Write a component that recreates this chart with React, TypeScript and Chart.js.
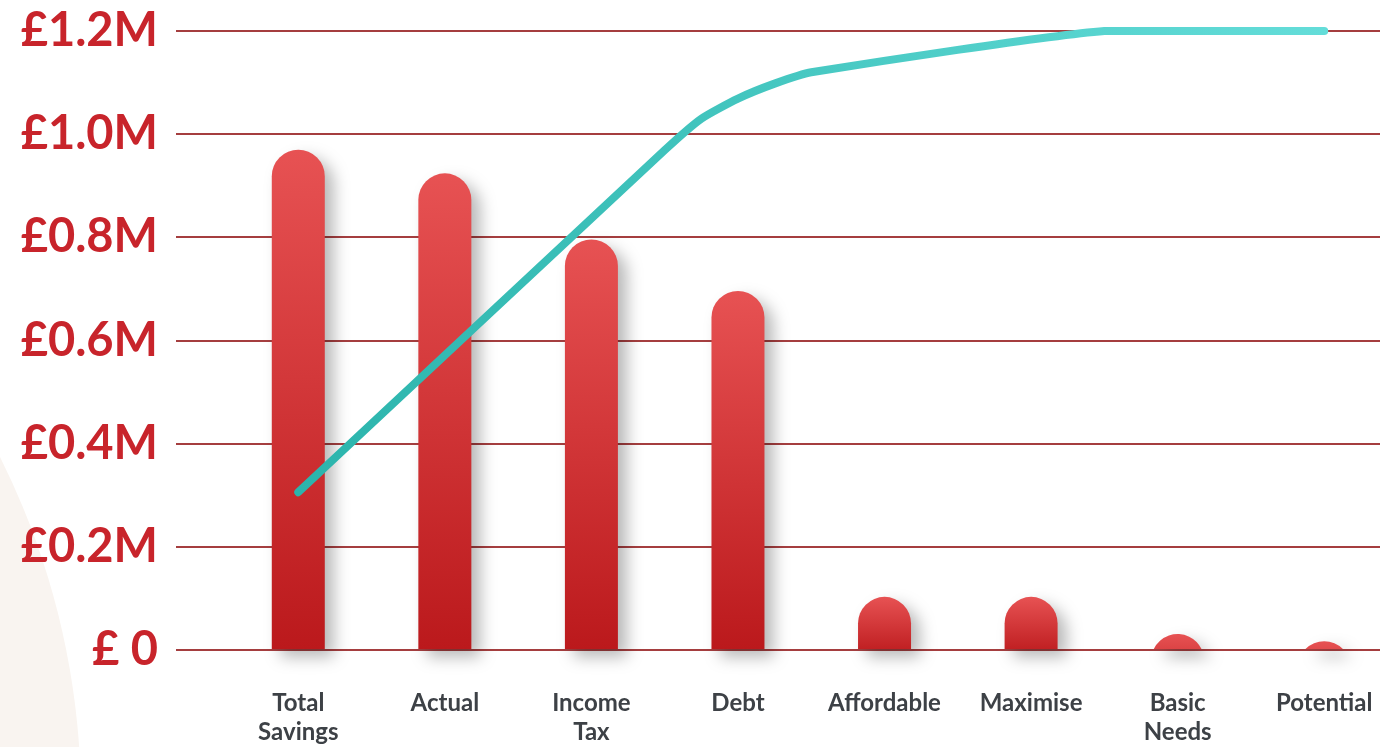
import React, { useEffect, useRef } from 'react';
import { Chart, registerables } from 'chart.js';

Chart.register(...registerables);

// Category labels (multi-line where the label wraps)
const categories: string[][] = [
  ['Total', 'Savings'],
  ['Actual'],
  ['Income', 'Tax'],
  ['Debt'],
  ['Affordable'],
  ['Maximise'],
  ['Basic', 'Needs'],
  ['Potential'],
];

// Bar values in pounds
const barValues: number[] = [970000, 924000, 796000, 696000, 103000, 103000, 31000, 17000];

// Cumulative line: positions in category units and values in pounds
const linePositions: number[] = [0, 2.5, 2.75, 3.0, 3.25, 3.5, 5.5, 7];
const lineValues: number[] = [306000, 969000, 1030000, 1069000, 1098000, 1120000, 1200000, 1200000];

// Y axis
const yTicks: number[] = [0, 200000, 400000, 600000, 800000, 1000000, 1200000];
const yTickLabels: string[] = ['£ 0', '£0.2M', '£0.4M', '£0.6M', '£0.8M', '£1.0M', '£1.2M'];

const FONT = 'Lato, "Open Sans", sans-serif';
const CANVAS_W = 1400;
const CANVAS_H = 747;

// Soft beige disc behind the left side of the chart
const backdrop = {
  id: 'backdrop',
  beforeDraw(chart: any) {
    const ctx = chart.ctx as CanvasRenderingContext2D;
    ctx.save();
    ctx.fillStyle = '#f9f4f0';
    ctx.beginPath();
    ctx.arc(-686, 800, 767, 0, Math.PI * 2);
    ctx.fill();
    ctx.restore();
  },
};

// Draws each bar as a pill (semicircular top) clipped at the baseline, with a soft shadow
const pillBars = {
  id: 'pillBars',
  afterDatasetDraw(chart: any, args: any) {
    if (args.index !== 0) return;
    const ctx = chart.ctx as CanvasRenderingContext2D;
    args.meta.data.forEach((el: any) => {
      const { x, y, base, width } = el.getProps(['x', 'y', 'base', 'width'], true);
      const r = width / 2;
      const left = x - r;
      const right = x + r;
      const cy = y + r;
      ctx.save();
      ctx.beginPath();
      if (base - y >= r) {
        ctx.moveTo(left, base);
        ctx.lineTo(left, cy);
        ctx.arc(x, cy, r, Math.PI, Math.PI * 2);
        ctx.lineTo(right, base);
      } else {
        const a = Math.asin(Math.min(1, (cy - base) / r));
        ctx.arc(x, cy, r, Math.PI + a, Math.PI * 2 - a);
      }
      ctx.closePath();
      const g = ctx.createLinearGradient(0, y, 0, Math.max(base, y + 60));
      g.addColorStop(0, '#e75253');
      g.addColorStop(1, '#bb191c');
      ctx.fillStyle = g;
      ctx.shadowColor = 'rgba(0,0,0,0.28)';
      ctx.shadowBlur = 16;
      ctx.shadowOffsetX = 9;
      ctx.shadowOffsetY = 8;
      ctx.fill();
      ctx.restore();
    });
  },
};

export default function App() {
  const canvasRef = useRef<HTMLCanvasElement | null>(null);

  useEffect(() => {
    const canvas = canvasRef.current;
    if (!canvas) return;
    const ctx = canvas.getContext('2d') as CanvasRenderingContext2D;

    const tickGradient = ctx.createLinearGradient(20, 0, 160, 0);
    tickGradient.addColorStop(0, '#c8242b');
    tickGradient.addColorStop(1, '#e8545a');

    const lineGradient = ctx.createLinearGradient(298, 0, 1324, 0);
    lineGradient.addColorStop(0, '#2bb4ac');
    lineGradient.addColorStop(1, '#64ddd9');

    const chart = new Chart(canvas, {
      type: 'bar',
      data: {
        labels: categories,
        datasets: [
          {
            type: 'bar',
            data: barValues,
            backgroundColor: 'rgba(0,0,0,0)',
            borderWidth: 0,
            barThickness: 53,
            grouped: false,
            order: 1,
            xAxisID: 'x',
            yAxisID: 'y',
          },
          {
            type: 'line',
            data: linePositions.map((p, i) => ({ x: p, y: lineValues[i] })),
            borderColor: lineGradient,
            borderWidth: 8,
            borderCapStyle: 'round',
            borderJoinStyle: 'round',
            pointRadius: 0,
            tension: 0.2,
            fill: false,
            clip: false,
            order: 0,
            xAxisID: 'xl',
            yAxisID: 'y',
          } as any,
        ],
      },
      options: {
        animation: false,
        responsive: false,
        devicePixelRatio: 1,
        layout: { padding: { left: 0, right: 2.5, top: 31, bottom: 0 } },
        plugins: {
          legend: { display: false },
          tooltip: { enabled: false },
        },
        scales: {
          x: {
            type: 'category',
            offset: true,
            grid: { display: false, drawTicks: false },
            border: { display: false },
            ticks: {
              color: '#3d4146',
              font: { family: FONT, size: 24, weight: 'bold', lineHeight: 1.2 },
              padding: 39,
              autoSkip: false,
              maxRotation: 0,
            },
            afterFit: (scale: any) => {
              scale.height = 97;
              scale.paddingLeft = 0;
              scale.paddingRight = 0;
            },
          },
          xl: {
            type: 'linear',
            display: false,
            offset: false,
            bounds: 'data',
            min: -0.5,
            max: 7.5,
            ticks: { stepSize: 0.5 },
          },
          y: {
            type: 'linear',
            min: 0,
            max: 1200000,
            afterBuildTicks: (scale: any) => {
              scale.ticks = yTicks.map((v) => ({ value: v }));
            },
            grid: {
              color: '#a53e3f',
              lineWidth: 2,
              drawTicks: true,
              tickLength: 49,
            },
            border: { display: false },
            ticks: {
              color: tickGradient as any,
              font: { family: FONT, size: 47, weight: 'bold' },
              padding: 18,
              callback: (v: any) => yTickLabels[yTicks.indexOf(Number(v))] ?? '',
            },
            afterFit: (scale: any) => {
              scale.width = 225;
              scale.paddingTop = 0;
              scale.paddingBottom = 0;
            },
          },
        },
      } as any,
      plugins: [backdrop, pillBars],
    });

    return () => chart.destroy();
  }, []);

  return (
    <div
      style={{
        position: 'fixed',
        left: 0,
        top: 0,
        width: 1380,
        height: 747,
        overflow: 'hidden',
        background: '#ffffff',
      }}
    >
      <canvas
        ref={canvasRef}
        width={CANVAS_W}
        height={CANVAS_H}
        style={{ display: 'block', width: CANVAS_W, height: CANVAS_H }}
      />
    </div>
  );
}
